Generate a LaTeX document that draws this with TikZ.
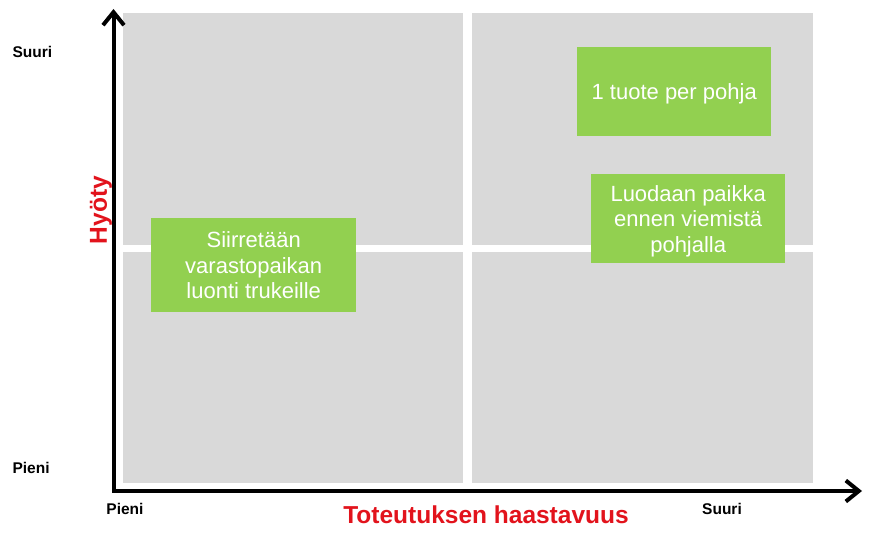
\documentclass[tikz,border=0pt]{standalone}
\usepackage{fontspec}
\setmainfont{Liberation Sans}
\usetikzlibrary{arrows.meta}
\definecolor{quadgrey}{HTML}{D9D9D9}
\definecolor{ideagreen}{HTML}{92D050}
\definecolor{axisred}{HTML}{E2131C}

\begin{document}
\begin{tikzpicture}
    [
        x=1pt,y=-1pt,
        quadrant/.style={fill=quadgrey},
        idea/.style={fill=ideagreen,text=white,align=center,inner sep=0pt,
            text depth=0pt,anchor=north west,font=\fontsize{22}{25.5}\selectfont},
        scalelabel/.style={font=\bfseries\fontsize{15.5}{18}\selectfont},
        axislabel/.style={text=axisred,font=\bfseries\fontsize{24.5}{29}\selectfont},
    ]
    \useasboundingbox (0,0) rectangle (869,535);
    % The quadrants
    \fill[quadrant] (123,13) rectangle (463,245);
    \fill[quadrant] (472,13) rectangle (813,245);
    \fill[quadrant] (123,252) rectangle (463,483);
    \fill[quadrant] (472,252) rectangle (813,483);
    % The axes
    \coordinate (origin) at (113.5,491);
    \coordinate (ytip) at (113.5,9);
    \coordinate (xtip) at (862,491);
    \draw[line width=4pt,line join=miter,
        {Straight Barb[length=13pt,width=21pt]}-{Straight Barb[length=13pt,width=21pt]}]
    (ytip) -- (origin) -- (xtip);
    \node[axislabel,rotate=90] (hyoty) at (101,210) {Hyöty};
    \node[axislabel] (haastavuus) at (486,515) {Toteutuksen haastavuus};
    \node[scalelabel,anchor=west] (ysuuri) at (9,52) {Suuri};
    \node[scalelabel,anchor=west] (ypieni) at (9,468) {Pieni};
    \node[scalelabel] (xpieni) at (125,509) {Pieni};
    \node[scalelabel] (xsuuri) at (722,509) {Suuri};
    % The ideas
    \node[idea,minimum width=194pt,minimum height=89pt] (tuote) at (577,47)
    {1 tuote per pohja};
    \node[idea,minimum width=194pt,minimum height=89pt] (paikka) at (591,174)
    {Luodaan paikka\\ennen viemistä\\pohjalla};
    \node[idea,minimum width=205pt,minimum height=94pt] (siirretaan) at (151,218)
    {Siirretään\\varastopaikan\\luonti trukeille};
\end{tikzpicture}
\end{document}
